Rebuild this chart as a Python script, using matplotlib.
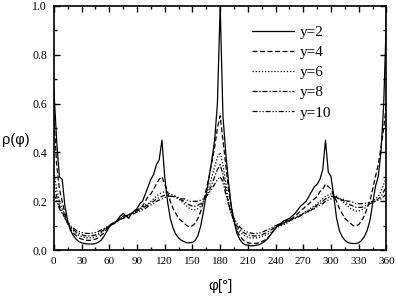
import numpy as np
import matplotlib
matplotlib.use("Agg")
import matplotlib.pyplot as plt
from matplotlib.ticker import MultipleLocator

phi = np.arange(0, 361, 3)

rho_y2 = [0.66, 0.45, 0.30, 0.29, 0.18, 0.12, 0.08, 0.06, 0.045, 0.035,
          0.03, 0.027, 0.025, 0.025, 0.025, 0.027, 0.032, 0.04, 0.055, 0.075,
          0.095, 0.105, 0.11, 0.125, 0.14, 0.15, 0.14, 0.13, 0.15, 0.16,
          0.17, 0.19, 0.2, 0.23, 0.26, 0.29, 0.31, 0.35, 0.37, 0.45,
          0.30, 0.2, 0.13, 0.09, 0.065, 0.05, 0.04, 0.035, 0.03, 0.03,
          0.032, 0.04, 0.06, 0.1, 0.16, 0.23, 0.3, 0.37, 0.45, 0.6,
          1.0, 0.55, 0.4, 0.28, 0.18, 0.12, 0.07, 0.045, 0.03, 0.022,
          0.02, 0.018, 0.018, 0.02, 0.022, 0.028, 0.035, 0.045, 0.06, 0.075,
          0.09, 0.105, 0.11, 0.12, 0.125, 0.13, 0.14, 0.15, 0.165, 0.18,
          0.19, 0.2, 0.22, 0.24, 0.26, 0.27, 0.29, 0.33, 0.45, 0.32,
          0.30, 0.22, 0.13, 0.08, 0.055, 0.04, 0.032, 0.028, 0.027, 0.027,
          0.03, 0.04, 0.055, 0.08, 0.12, 0.19, 0.26, 0.3, 0.4, 0.6,
          0.97]

rho_y4 = [0.55, 0.35, 0.25, 0.2, 0.15, 0.11, 0.085, 0.07, 0.06, 0.05,
          0.045, 0.042, 0.04, 0.04, 0.042, 0.045, 0.05, 0.06, 0.07, 0.085,
          0.1, 0.105, 0.11, 0.12, 0.13, 0.14, 0.14, 0.14, 0.15, 0.16,
          0.165, 0.17, 0.18, 0.2, 0.22, 0.23, 0.25, 0.27, 0.29, 0.3,
          0.27, 0.24, 0.2, 0.17, 0.15, 0.13, 0.12, 0.11, 0.1, 0.095,
          0.1, 0.11, 0.13, 0.16, 0.2, 0.25, 0.3, 0.36, 0.42, 0.5,
          0.55, 0.45, 0.35, 0.25, 0.18, 0.12, 0.08, 0.06, 0.045, 0.035,
          0.03, 0.028, 0.027, 0.028, 0.03, 0.035, 0.04, 0.05, 0.06, 0.075,
          0.09, 0.1, 0.105, 0.11, 0.12, 0.125, 0.13, 0.14, 0.15, 0.16,
          0.17, 0.18, 0.19, 0.2, 0.21, 0.22, 0.24, 0.25, 0.27, 0.26,
          0.25, 0.22, 0.2, 0.17, 0.15, 0.13, 0.12, 0.11, 0.1, 0.1,
          0.105, 0.12, 0.14, 0.17, 0.2, 0.25, 0.3, 0.35, 0.42, 0.5,
          0.6]

rho_y6 = [0.32, 0.25, 0.2, 0.17, 0.14, 0.11, 0.09, 0.08, 0.07, 0.06,
          0.055, 0.052, 0.05, 0.05, 0.052, 0.055, 0.06, 0.07, 0.08, 0.09,
          0.1, 0.11, 0.115, 0.12, 0.13, 0.135, 0.14, 0.145, 0.15, 0.155,
          0.16, 0.17, 0.175, 0.185, 0.19, 0.2, 0.21, 0.22, 0.23, 0.235,
          0.24, 0.235, 0.23, 0.225, 0.22, 0.21, 0.2, 0.19, 0.18, 0.17,
          0.165, 0.165, 0.17, 0.18, 0.2, 0.23, 0.26, 0.3, 0.34, 0.38,
          0.4, 0.35, 0.28, 0.2, 0.15, 0.11, 0.09, 0.075, 0.065, 0.058,
          0.053, 0.05, 0.05, 0.05, 0.052, 0.055, 0.06, 0.065, 0.07, 0.08,
          0.09, 0.095, 0.1, 0.105, 0.11, 0.12, 0.125, 0.13, 0.14, 0.145,
          0.15, 0.16, 0.165, 0.175, 0.18, 0.19, 0.2, 0.21, 0.22, 0.225,
          0.23, 0.225, 0.22, 0.21, 0.2, 0.19, 0.18, 0.17, 0.165, 0.16,
          0.16, 0.165, 0.17, 0.18, 0.19, 0.2, 0.21, 0.22, 0.24, 0.27,
          0.3]

rho_y8 = [0.27, 0.22, 0.18, 0.16, 0.13, 0.11, 0.095, 0.085, 0.075, 0.068,
          0.063, 0.06, 0.058, 0.058, 0.06, 0.062, 0.068, 0.075, 0.083, 0.092,
          0.1, 0.108, 0.115, 0.12, 0.128, 0.135, 0.14, 0.145, 0.15, 0.155,
          0.16, 0.165, 0.17, 0.18, 0.185, 0.195, 0.2, 0.21, 0.215, 0.22,
          0.225, 0.225, 0.22, 0.22, 0.215, 0.21, 0.205, 0.2, 0.19, 0.185,
          0.18, 0.18, 0.185, 0.19, 0.2, 0.22, 0.24, 0.27, 0.3, 0.33,
          0.35, 0.31, 0.25, 0.19, 0.15, 0.12, 0.1, 0.085, 0.075, 0.068,
          0.063, 0.06, 0.058, 0.058, 0.06, 0.063, 0.068, 0.073, 0.08, 0.088,
          0.095, 0.1, 0.105, 0.11, 0.115, 0.12, 0.125, 0.13, 0.135, 0.14,
          0.15, 0.155, 0.16, 0.17, 0.175, 0.185, 0.19, 0.2, 0.21, 0.215,
          0.22, 0.22, 0.215, 0.21, 0.205, 0.2, 0.19, 0.185, 0.18, 0.175,
          0.175, 0.175, 0.18, 0.185, 0.19, 0.195, 0.2, 0.21, 0.22, 0.24,
          0.26]

rho_y10 = [0.23, 0.2, 0.17, 0.15, 0.13, 0.115, 0.1, 0.09, 0.082, 0.076,
           0.072, 0.07, 0.068, 0.068, 0.07, 0.072, 0.076, 0.082, 0.088, 0.095,
           0.1, 0.108, 0.113, 0.12, 0.125, 0.13, 0.135, 0.14, 0.145, 0.15,
           0.155, 0.16, 0.165, 0.17, 0.18, 0.185, 0.19, 0.2, 0.205, 0.21,
           0.215, 0.22, 0.22, 0.22, 0.22, 0.215, 0.21, 0.21, 0.205, 0.2,
           0.2, 0.2, 0.2, 0.205, 0.21, 0.22, 0.235, 0.25, 0.27, 0.29,
           0.3, 0.28, 0.23, 0.19, 0.155, 0.13, 0.11, 0.095, 0.085, 0.078,
           0.073, 0.07, 0.068, 0.068, 0.07, 0.073, 0.078, 0.083, 0.088, 0.095,
           0.1, 0.105, 0.11, 0.113, 0.118, 0.122, 0.127, 0.132, 0.137, 0.142,
           0.148, 0.153, 0.158, 0.165, 0.17, 0.178, 0.185, 0.19, 0.2, 0.205,
           0.21, 0.215, 0.215, 0.21, 0.21, 0.205, 0.2, 0.2, 0.195, 0.19,
           0.19, 0.19, 0.19, 0.195, 0.195, 0.2, 0.2, 0.205, 0.21, 0.22,
           0.23]

labels = ["y=2", "y=4", "y=6", "y=8", "y=10"]
x_ticks = list(range(0, 361, 30))
y_ticks = [0.0, 0.2, 0.4, 0.6, 0.8, 1.0]

serif = "Liberation Serif"
fig = plt.figure(figsize=(3.96, 2.96), dpi=100)
ax = fig.add_axes([0.136, 0.155, 0.840, 0.825])

styles = ["-", (0, (4, 2)), (0, (1, 1.5)), (0, (4, 1.5, 1, 1.5)), (0, (4, 1.5, 1, 1.5, 1, 1.5))]
series = [rho_y2, rho_y4, rho_y6, rho_y8, rho_y10]
for vals, ls, lab in zip(series, styles, labels):
    ax.plot(phi, vals, color="black", lw=0.9, linestyle=ls, label=lab)

ax.set_xlim(0, 360)
ax.set_ylim(0, 1.0)
ax.set_xticks(x_ticks)
ax.set_yticks(y_ticks)
ax.set_xticklabels([str(t) for t in x_ticks], fontfamily=serif, fontsize=8)
ax.set_yticklabels([f"{t:.1f}" for t in y_ticks], fontfamily=serif, fontsize=8.5)
ax.xaxis.set_minor_locator(MultipleLocator(15))
ax.yaxis.set_minor_locator(MultipleLocator(0.1))
ax.tick_params(which="both", direction="in", top=True, right=True, width=1.0)
ax.tick_params(which="major", length=4, pad=5)
ax.tick_params(which="minor", length=2)
for s in ax.spines.values():
    s.set_linewidth(1.2)

ax.set_xlabel("φ[°]", fontfamily="Liberation Sans", fontsize=11, labelpad=9)
fig.text(0.04, 0.527, "ρ(φ)", fontfamily="Liberation Sans", fontsize=10.5, ha="center", va="center")

leg = ax.legend(loc="upper left", bbox_to_anchor=(0.597, 0.92), frameon=False,
                prop={"family": serif, "size": 11}, handlelength=2.75,
                handletextpad=0.35, labelspacing=0.42, borderaxespad=0,
                borderpad=0)

fig.savefig("out.png", dpi=100)
